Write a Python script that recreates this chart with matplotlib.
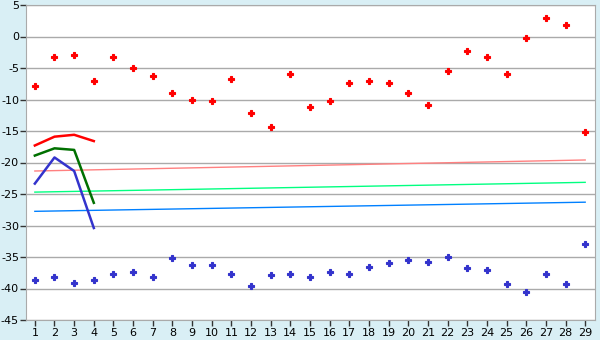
import numpy as np
import matplotlib
matplotlib.use('Agg')
import matplotlib.pyplot as plt

plt.rcParams['axes.unicode_minus'] = False
plt.rcParams['font.family'] = 'DejaVu Sans'

# Данные
days = np.arange(1, 30)
red_pts = [-7.9, -3.3, -3.0, -7.1, -3.3, -5.05, -6.3, -9.0, -10.0, -10.3,
           -6.8, -12.2, -14.4, -6.0, -11.2, -10.3, -7.4, -7.1, -7.4, -9.0,
           -10.9, -5.5, -2.35, -3.3, -6.0, -0.3, 2.9, 1.9, -15.2]
blue_pts = [-38.65, -38.1, -39.2, -38.65, -37.75, -37.4, -38.2, -35.2, -36.3, -36.3,
            -37.75, -39.65, -37.9, -37.75, -38.2, -37.4, -37.75, -36.6, -36.0, -35.4,
            -35.85, -35.05, -36.8, -37.1, -39.35, -40.6, -37.75, -39.35, -33.0]

short_x = [1, 2, 3, 4]
red_line = [-17.3, -15.9, -15.6, -16.6]
green_line = [-18.9, -17.75, -18.0, -26.4]
blue_line = [-23.35, -19.2, -21.35, -30.4]

trend_x = [1, 29]
pink_trend = [-21.35, -19.6]
green_trend = [-24.7, -23.15]
blue_trend = [-27.75, -26.3]

bg = '#d9eff5'
fig = plt.figure(figsize=(6, 3.4), dpi=100, facecolor=bg)
ax = fig.add_axes([26/600, 20/340, 569/600, 315/340])
ax.set_facecolor('white')

# тренды
ax.plot(trend_x, pink_trend, color='#ff8080', lw=1)
ax.plot(trend_x, green_trend, color='#00ff80', lw=1)
ax.plot(trend_x, blue_trend, color='#0080ff', lw=1)

# короткие линии
ax.plot(short_x, red_line, color='#ff0000', lw=1.8)
ax.plot(short_x, green_line, color='#007000', lw=1.8)
ax.plot(short_x, blue_line, color='#3333cc', lw=1.8)

# точки
ax.plot(days, red_pts, 'P', color='#ff0000', markersize=4.5, markeredgewidth=0.8)
ax.plot(days, blue_pts, 'P', color='#3333cc', markersize=4.5, markeredgewidth=0.8)

ax.set_xlim(0.55, 29.5)
ax.set_ylim(-45, 5)
ax.set_xticks(days)
ax.set_yticks(np.arange(-45, 6, 5))
ax.grid(True, axis='y', color='#aaaaaa', lw=1)
ax.set_axisbelow(True)
for s in ax.spines.values():
    s.set_color('#aaaaaa')
ax.tick_params(axis='both', colors='#333333', labelcolor='black', labelsize=8,
               length=4, width=1)
ax.tick_params(axis='x', pad=2)
ax.tick_params(axis='y', pad=1)

fig.savefig('out.png', dpi=100, facecolor=bg)
